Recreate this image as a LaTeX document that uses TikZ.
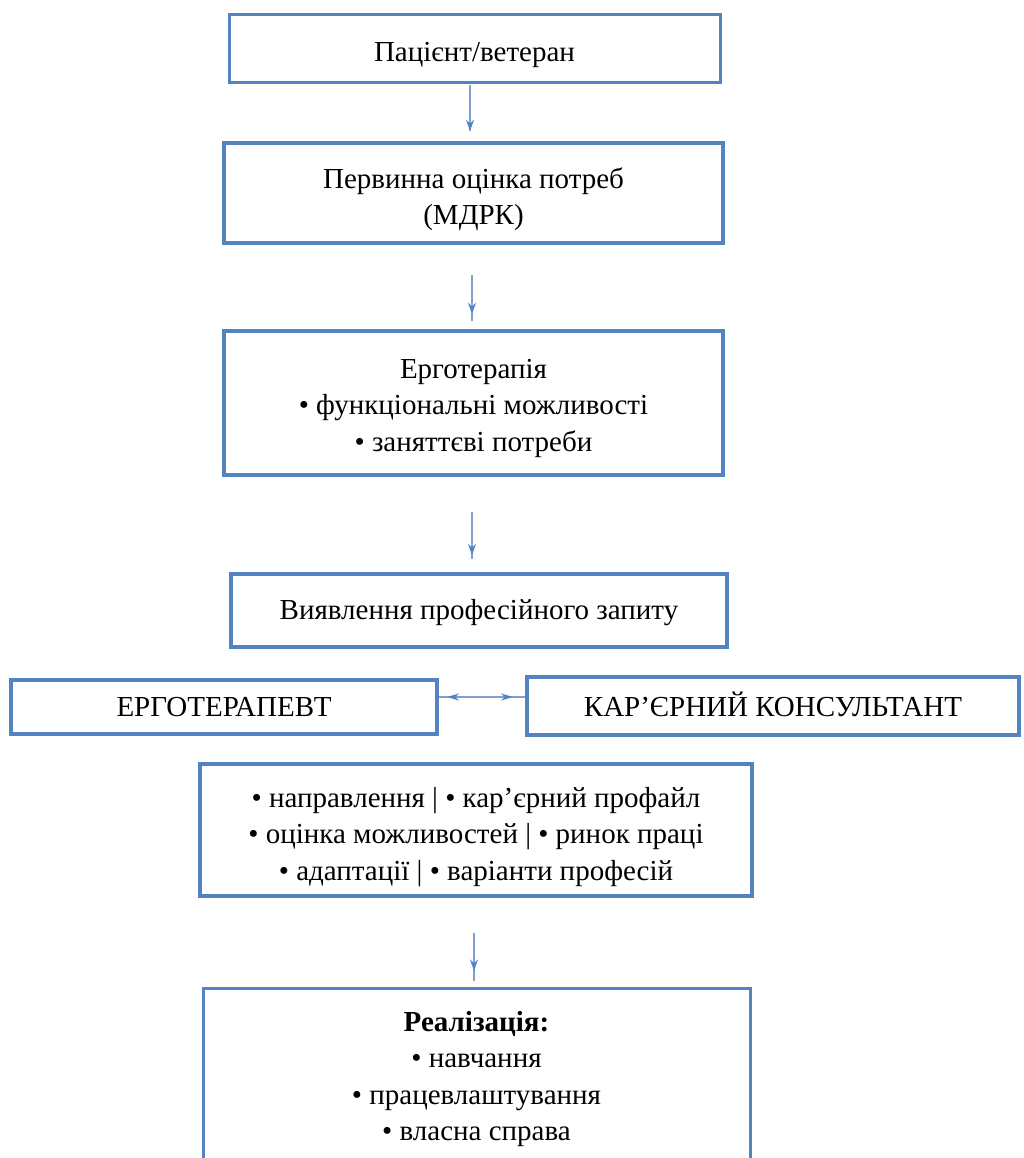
\documentclass[tikz,border=0pt]{standalone}
\usepackage{fontspec}
\setmainfont{Liberation Serif}
\usetikzlibrary{arrows.meta,decorations.markings,calc}
\definecolor{boxblue}{HTML}{5383C0}
\definecolor{arrblue}{HTML}{7FA0D0}
\begin{document}
\begin{tikzpicture}[x=1pt,y=-1pt,
  box/.style={draw=boxblue, line width=4pt, fill=white, minimum width=#1, align=center, inner sep=0pt,
    font=\fontsize{29}{36.5}\selectfont},
  box/.default=499pt,
  flow/.style={draw=arrblue, line width=2.2pt, postaction={decorate},
    decoration={markings, mark=at position 0.82 with {\arrow[boxblue]{Stealth[length=11pt,width=8pt]}}}},
  link/.style={draw=arrblue, line width=2.2pt, postaction={decorate},
    decoration={markings,
      mark=at position 20pt with {\arrow[boxblue]{Stealth[length=12pt,width=7pt,reversed]}},
      mark=at position 74pt with {\arrow[boxblue]{Stealth[length=12pt,width=7pt]}}}}
]
\useasboundingbox (0,0) rectangle (1023,1158);

\node[box=491pt, minimum height=68pt, line width=3pt] (n1) at (474.5,49) {\rule{0pt}{32pt}Пацієнт/ветеран};
\node[box=499pt, minimum height=100pt] (n2) at (473.5,193) {\rule{0pt}{33pt}Первинна оцінка потреб\\(МДРК)};
\node[box=499pt, minimum height=144pt] (n3) at (473.5,403) {\rule{0pt}{30pt}Ерготерапія\\• функціональні можливості\\• заняттєві потреби};
\node[box=496pt, minimum height=73pt] (n4) at (479,610.5) {\rule{0pt}{24pt}Виявлення професійного запиту};
\node[box=426pt, minimum height=54pt] (n5) at (224,707) {ЕРГОТЕРАПЕВТ};
\node[box=492pt, minimum height=58pt] (n6) at (773,706) {\rule[-4pt]{0pt}{4pt}КАР’ЄРНИЙ КОНСУЛЬТАНТ};
\node[box=552pt, minimum height=132pt] (n7) at (476,830) {\rule{0pt}{34pt}• направлення | • кар’єрний профайл\\• оцінка можливостей | • ринок праці\\• адаптації | • варіанти професій};
\node[box=547pt, minimum height=182pt, line width=3pt] (n8) at (476.5,1079) {\textbf{Реалізація:}\\• навчання\\• працевлаштування\\• власна справа};

\draw[flow, shorten <=1pt, shorten >=10pt] (n1.south -| 470,0) -- (n2.north -| 470,0);
\draw[flow, shorten <=30pt, shorten >=8pt] (n2.south -| 472,0) -- (n3.north -| 472,0);
\draw[flow, shorten <=35pt, shorten >=13pt] (n3.south -| 472,0) -- (n4.north -| 472,0);
\draw[flow, shorten <=35pt, shorten >=6pt] (n7.south -| 474,0) -- (n8.north -| 474,0);
\draw[link] ([yshift=10pt]n5.east) -- ([yshift=10pt]n5.east -| n6.west);
\end{tikzpicture}
\end{document}
